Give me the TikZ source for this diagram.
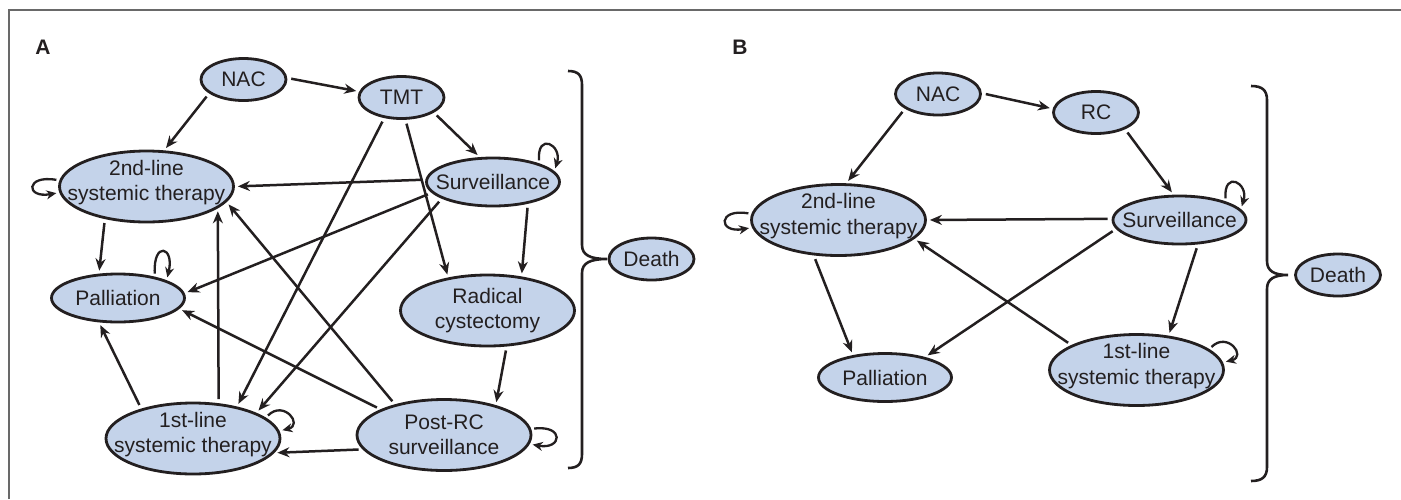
\documentclass[tikz,border=0pt]{standalone}
\usepackage{fontspec}
\setmainfont{Liberation Sans}
\usetikzlibrary{shapes.geometric,arrows.meta}

\definecolor{statefill}{RGB}{196,211,234}
\definecolor{inkdark}{RGB}{35,31,32}
\definecolor{framegray}{RGB}{105,105,105}

\newcommand{\lowstrut}{\rule[-12pt]{0pt}{12pt}}

\tikzstyle{state}=[ellipse,draw=inkdark,line width=2.8pt,fill=statefill,text=inkdark,
  inner xsep=-150pt,inner ysep=-60pt,align=center,font=\fontsize{21}{25.5}\selectfont]
\tikzstyle{smallstate}=[state,minimum width=85pt,minimum height=42pt]
\tikzstyle{midstate}=[state,minimum width=133pt,minimum height=48pt]
\tikzstyle{bigstate}=[state,minimum width=174pt,minimum height=71pt]
\tikzstyle{trans}=[draw=inkdark,line width=2.5pt,-{Stealth[length=12pt,width=10pt]},
  shorten <=4pt,shorten >=3pt]
\tikzstyle{selfloop}=[trans,line width=2.3pt,-{Stealth[length=10pt,width=9pt]},
  shorten <=3pt,shorten >=3pt]
\tikzstyle{bracket}=[draw=inkdark,line width=2.6pt]
\tikzstyle{panel}=[text=inkdark,font=\bfseries\fontsize{21}{24}\selectfont]
\tikzstyle{frame}=[draw=framegray,line width=2.2pt]

\begin{document}
\begin{tikzpicture}[x=1pt,y=-1pt]
\useasboundingbox (0,0) rectangle (1401,499);
\draw[frame] (9,499) -- (9,10) -- (1401,10);

\node[panel] (labA) at (43,47) {A};
\node[panel] (labB) at (740,47) {B};

\node[smallstate] (nacA) at (243.5,79.5) {NAC};
\node[smallstate] (tmtA) at (401.5,97.5) {TMT};
\node[bigstate] (sndA) at (146.5,186.5) {2nd-line\\systemic therapy\lowstrut};
\node[midstate] (survA) at (493,182) {Surveillance};
\node[midstate] (pallA) at (118,298) {Palliation};
\node[bigstate] (rcA) at (487.5,310.5) {Radical\\cystectomy};
\node[bigstate] (fstA) at (193,438.5) {1st-line\\systemic therapy\lowstrut};
\node[bigstate] (postA) at (444,435) {Post-RC\\surveillance};
\node[smallstate] (deathA) at (651.5,259) {Death};

\draw[trans] (nacA.2) -- (tmtA.172);
\draw[trans] (nacA.202) -- (sndA.64);
\draw[trans] (tmtA.335) -- (survA.118);
\draw[trans] (tmtA.230) -- (fstA.36);
\draw[trans] (tmtA.280) -- (rcA.140);
\draw[trans] (survA.178) -- (sndA.0);
\draw[trans] (survA.190) -- (pallA.4);
\draw[trans] (survA.198) -- (fstA.22);
\draw[trans] (survA.328) -- (rcA.45);
\draw[trans] (sndA.218) -- (pallA.128);
\draw[trans] (fstA.150) -- (pallA.232);
\draw[trans] (fstA.54) -- (sndA.343);
\draw[trans] (postA.148) -- (sndA.349);
\draw[trans] (postA.158) -- (pallA.350);
\draw[trans] (postA.190) -- (fstA.350);
\draw[trans] (rcA.298) -- (postA.30);

\draw[selfloop] (sndA.176) .. controls +(-34,-6) and +(-34,6) .. (sndA.184);
\draw[selfloop] (pallA.30) .. controls +(-2,-36) and +(8,-34) .. (pallA.20);
\draw[selfloop] (survA.22) .. controls +(-2,-32) and +(8,-26) .. (survA.10);
\draw[selfloop] (fstA.16) .. controls +(18,-18) and +(24,-6) .. (fstA.5);
\draw[selfloop] (postA.4) .. controls +(34,-4) and +(32,6) .. (postA.-6);

\draw[bracket] (568,71) .. controls (578,71) and (582,75) .. (582,85) -- (582,245)
  .. controls (582,255) and (590,259) .. (607,259)
  .. controls (590,259) and (582,263) .. (582,273) -- (582,454)
  .. controls (582,464) and (578,468) .. (568,468);

\node[smallstate] (nacB) at (938,94) {NAC};
\node[smallstate] (rcB) at (1096,112.5) {RC};
\node[bigstate] (sndB) at (838.5,220) {2nd-line\\systemic therapy\lowstrut};
\node[midstate] (survB) at (1179.5,220) {Surveillance};
\node[midstate] (pallB) at (885,377.5) {Palliation};
\node[bigstate] (fstB) at (1136.5,370) {1st-line\\systemic therapy\lowstrut};
\node[smallstate] (deathB) at (1338,275) {Death};

\draw[trans] (nacB.1) -- (rcB.175);
\draw[trans] (nacB.204) -- (sndB.78);
\draw[trans] (rcB.330) -- (survB.103);
\draw[trans] (survB.179) -- (sndB.0);
\draw[trans] (survB.188) -- (pallB.27);
\draw[trans] (survB.307) -- (fstB.47);
\draw[trans] (fstB.159) -- (sndB.346);
\draw[trans] (sndB.235) -- (pallB.145);

\draw[selfloop] (sndB.176) .. controls +(-34,-6) and +(-34,6) .. (sndB.185);
\draw[selfloop] (survB.22) .. controls +(-2,-32) and +(8,-26) .. (survB.10);
\draw[selfloop] (fstB.16) .. controls +(18,-18) and +(24,-6) .. (fstB.5);

\draw[bracket] (1251,86) .. controls (1262,86) and (1267,90) .. (1267,100) -- (1267,261)
  .. controls (1267,271) and (1274,275) .. (1288,275)
  .. controls (1274,275) and (1267,279) .. (1267,289) -- (1267,467)
  .. controls (1267,477) and (1262,481) .. (1251,481);
\end{tikzpicture}
\end{document}
